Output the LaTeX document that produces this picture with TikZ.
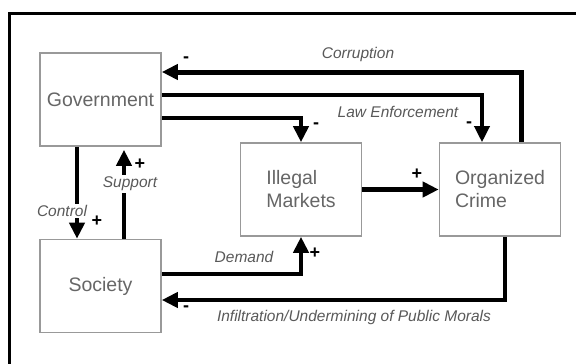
\documentclass[tikz,border=0pt]{standalone}
\usepackage{fontspec}
\setmainfont{Liberation Sans}
\usepackage{tikz}
\usetikzlibrary{arrows.meta,positioning,calc}

\begin{document}
\begin{tikzpicture}[x=1pt, y=-1pt,
	box/.style={draw=black!40, line width=1.6pt, minimum width=121pt, minimum height=93pt, inner sep=0pt, text=black!60, font=\fontsize{19.5}{23}\selectfont},
	flow/.style={line width=4pt, -{Triangle[length=16pt,width=15pt]}},
	lbl/.style={text=black!65, font=\fontsize{15.5}{18}\selectfont\itshape, inner sep=1.5pt},
	sign/.style={text=black, font=\fontsize{18}{20}\selectfont\bfseries, inner sep=0pt}]
	\useasboundingbox (0,0) rectangle (576,364);
	\fill[white] (0,0) rectangle (576,364);
	\draw[line width=3.5pt] (9.5,380) |- (590,13.5); % Rahmen
	
	% Kaesten
	\node[box] (gov) at (100.5,99.5) {Government};
	\node[box] (soc) at (100.5,286) {Society};
	\node[box, align=left] (im) at (301,189.5) {Illegal\\Markets};
	\node[box, align=left] (oc) at (500,189.5) {Organized\\Crime};
	
	% Pfeile
	\draw[flow, line width=5pt] ([xshift=21pt]oc.north) |- ([yshift=27.5pt]gov.east);
	\draw[flow, line width=3.5pt] ([yshift=4.5pt]gov.east) -| ([xshift=-18pt]oc.north);
	\draw[flow] ([yshift=-18.5pt]gov.east) -| (im.north);
	\draw[flow, line width=5pt] (im.east) -- (oc.west);
	\draw[flow] ([yshift=12pt]soc.east) -| (im.south);
	\draw[flow] ([xshift=5pt]oc.south) |- ([yshift=-14pt]soc.east);
	\draw[flow] ([xshift=-23.5pt]gov.south) -- ([xshift=-23.5pt]soc.north);
	\draw[flow] ([xshift=23.5pt]soc.north) -- ([xshift=23.5pt,yshift=-3pt]gov.south);
	
	% Beschriftungen
	\node[lbl] (corr) at (358,54) {Corruption};
	\node[lbl] (law) at (398,112) {Law Enforcement};
	\node[lbl, fill=white] (ctrl) at (62,211) {Control};
	\node[lbl, fill=white] (supp) at (130,184) {Support};
	\node[lbl] (dem) at (244,257) {Demand};
	\node[lbl] (infl) at (354,317) {Infiltration/Undermining of Public Morals};
	
	% Vorzeichen
	\node[sign] at (186,60) {-};
	\node[sign] at (316,126) {-};
	\node[sign] at (469,125) {-};
	\node[sign] at (186,309) {-};
	\node[sign] at (417,174) {+};
	\node[sign] at (140,164) {+};
	\node[sign] at (97,221) {+};
	\node[sign] at (315,253) {+};
\end{tikzpicture}
\end{document}
